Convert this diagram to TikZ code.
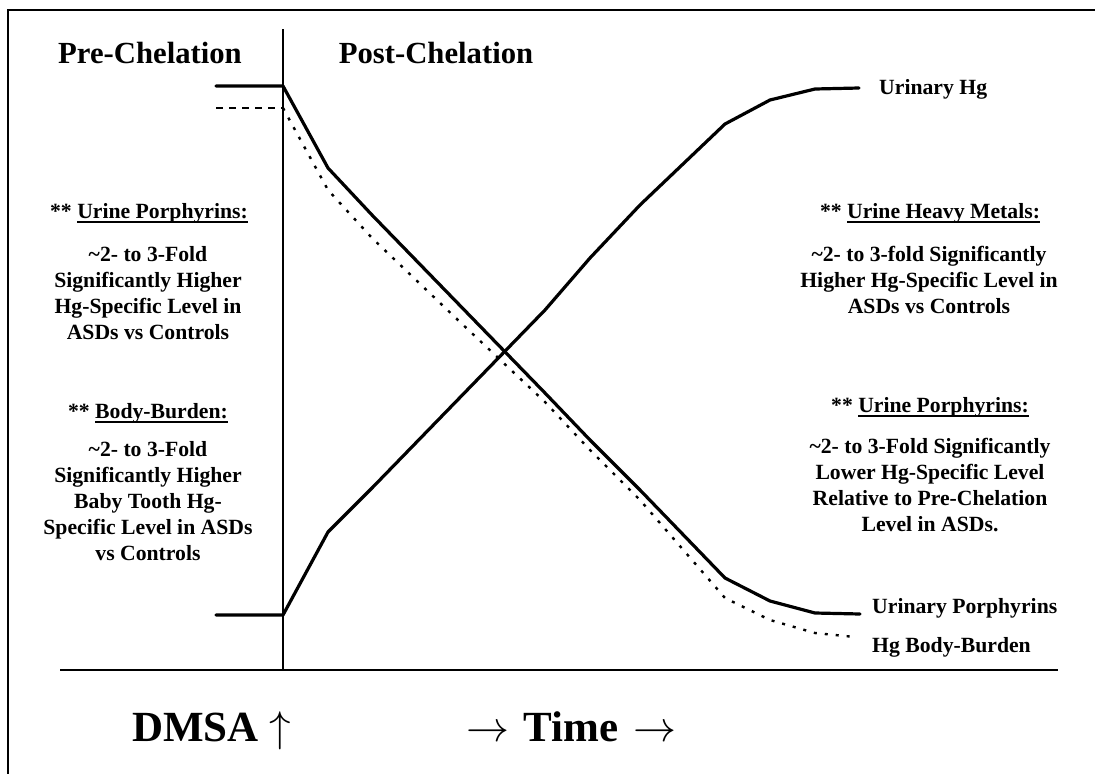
\RequirePackage{fix-cm}
\documentclass[tikz,border=0pt]{standalone}
\usepackage{fontspec}
\setmainfont{Liberation Serif}
\usetikzlibrary{positioning}

% underline that sits through the descenders, as in the chart
\newcommand{\ulin}[1]{\setbox0\hbox{#1}\rlap{\rule[-4.5pt]{\wd0}{1.8pt}}\box0}

\begin{document}
\begin{tikzpicture}[x=1pt, y=-1pt, node distance=12pt,
    curve/.style={line width=3.2pt, line join=round, line cap=round},
    burden/.style={line width=2.4pt, dash pattern=on 3pt off 8pt},
    note/.style={font=\bfseries\fontsize{21.7}{26}\selectfont, align=center, inner sep=0pt},
    heading/.style={font=\bfseries\fontsize{30.7}{36}\selectfont, inner sep=0pt},
    big/.style={font=\bfseries\fontsize{43}{50}\selectfont, inner sep=0pt, anchor=base west}]

  \useasboundingbox (0,0) rectangle (1095,774);
  \draw[line width=1.5pt] (1095,10) -- (8,10) -- (8,774);

  % axes
  \coordinate (top) at (283,29);
  \coordinate (dmsa) at (283,670);
  \coordinate (tstart) at (60,670);
  \coordinate (tend) at (1058,670);
  \draw[line width=1.2pt] (top) -- (dmsa);
  \draw[line width=1.8pt] (tstart) -- (tend);

  \node[heading] (pre) at (150,53) {Pre-Chelation};
  \node[heading] (post) at (436,53) {Post-Chelation};

  % curves
  \draw[curve] (216,86) -- (283,86) -- (328,168) -- (372,215) -- (545,393) -- (590,440)
    -- (640,490) -- (725,578) -- (770,601) -- (815,613) -- (860,614) coordinate (porend);
  \draw[curve] (216,615) -- (283,615) -- (328,532) -- (372,488) -- (545,310) -- (590,258)
    -- (640,205) -- (725,124) -- (770,100) -- (815,89) -- (859,88) coordinate (hgend);
  \draw[line width=2.2pt, dash pattern=on 7pt off 6pt] (216,108) -- (283,108);
  \draw[burden] (283,108) -- (328,190) -- (372,238) -- (460,322) -- (545,402) -- (590,450)
    -- (640,500) -- (725,598) -- (770,620) -- (815,633) -- (855,637) coordinate (bbend);

  \node[note, anchor=west, right=20pt of hgend, yshift=-1pt] (hg) {Urinary Hg};
  \node[note, anchor=west, right=12pt of porend, yshift=6pt] (por) {Urinary Porphyrins};
  \node[note, anchor=west, right=17pt of bbend, yshift=-10pt] (bb) {Hg Body-Burden};

  % left notes
  \node[note] (uph) at (149,213) {** \ulin{Urine Porphyrins:}};
  \node[note] (upt) at (148,293) {\char`~2- to 3-Fold\\Significantly Higher\\Hg-Specific Level in\\ASDs vs Controls};
  \node[note] (bbh) at (148,413) {** \ulin{Body-Burden:}};
  \node[note] (bbt) at (148,501) {\char`~2- to 3-Fold\\Significantly Higher\\Baby Tooth Hg-\\Specific Level in ASDs\\vs Controls};

  % right notes
  \node[note] (hmh) at (930,213) {** \ulin{Urine Heavy Metals:}};
  \node[note] (hmt) at (929,280) {\char`~2- to 3-fold Significantly\\Higher Hg-Specific Level in\\ASDs vs Controls};
  \node[note] (rph) at (930,407) {** \ulin{Urine Porphyrins:}};
  \node[note] (rpt) at (930,485) {\char`~2- to 3-Fold Significantly\\Lower Hg-Specific Level\\Relative to Pre-Chelation\\Level in ASDs.};

  \node[big] (dm) at (132,741) {DMSA $\uparrow$};
  \node[big] (time) at (466,741) {$\rightarrow$\hspace{4pt} Time \hspace{4pt}$\rightarrow$};

\end{tikzpicture}
\end{document}
